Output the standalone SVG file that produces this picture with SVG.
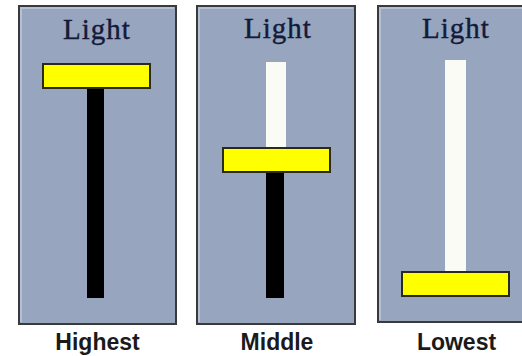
<svg xmlns="http://www.w3.org/2000/svg" width="522" height="356" viewBox="0 0 522 356">
<style>
.panel{fill:#97a5be;stroke:#3a3a3a;stroke-width:2}
.hl{fill:none;stroke:#b4c0d4;stroke-width:2}
.title{font-family:"Liberation Serif",serif;font-size:29px;fill:#141a38;stroke:#141a38;stroke-width:0.4;text-anchor:middle;letter-spacing:1px}
.label{font-family:"Liberation Sans",Arial,sans-serif;font-size:23px;font-weight:bold;fill:#1a1a1a;text-anchor:middle}
.knob{fill:#ffff00;stroke:#2a2a1a;stroke-width:2}
.dark{fill:#000}
.lite{fill:#fbfbf6}
</style>
<rect width="522" height="356" fill="#fff"/>
<g id="highest">
<rect class="panel" x="19" y="6" width="157" height="318"/>
<path class="hl" d="M21 322 V8 H174"/>
<text class="title" x="97" y="39">Light</text>
<rect class="dark" x="87" y="89" width="17" height="209"/>
<rect class="knob" x="43" y="64" width="107" height="24"/>
<text class="label" x="97.5" y="350">Highest</text>
</g>
<g id="middle">
<rect class="panel" x="197" y="6" width="158" height="318"/>
<path class="hl" d="M199 322 V8 H353"/>
<text class="title" x="278" y="38">Light</text>
<rect class="lite" x="266" y="62" width="20" height="86"/>
<rect class="dark" x="266" y="172" width="18" height="126"/>
<rect class="knob" x="223" y="148" width="107" height="24"/>
<text class="label" x="277" y="350">Middle</text>
</g>
<g id="lowest">
<rect class="panel" x="378" y="6" width="150" height="316"/>
<path class="hl" d="M380 320 V8 H522"/>
<text class="title" x="456" y="38">Light</text>
<rect class="lite" x="445" y="60" width="21" height="211"/>
<rect class="knob" x="402" y="272" width="107" height="24"/>
<text class="label" x="456.5" y="350">Lowest</text>
</g>
</svg>
